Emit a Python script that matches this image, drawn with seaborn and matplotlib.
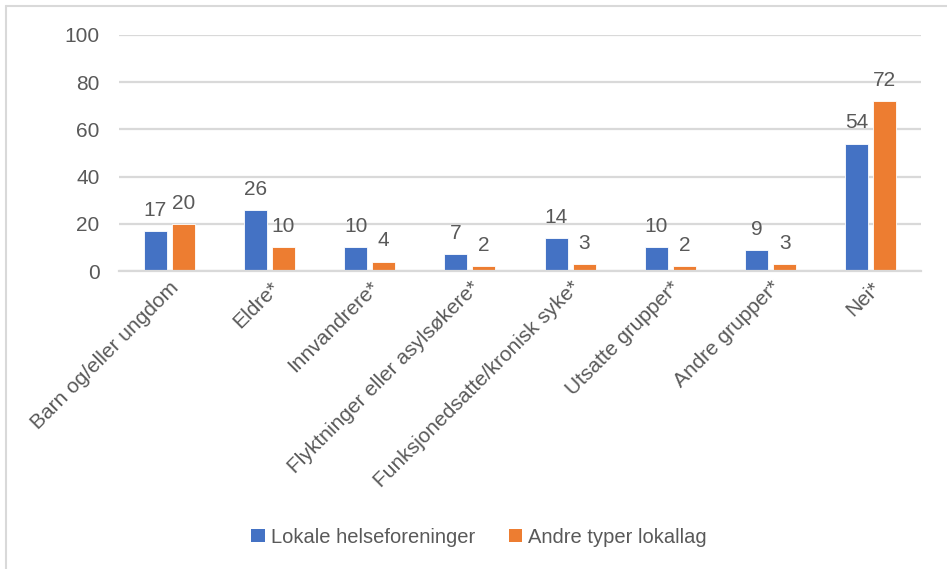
import matplotlib
matplotlib.use("Agg")
import matplotlib.pyplot as plt
from matplotlib.lines import Line2D
from matplotlib.patches import Patch
import seaborn as sns
import pandas as pd

categories = [
    "Barn og/eller ungdom",
    "Eldre*",
    "Innvandrere*",
    "Flyktninger eller asylsøkere*",
    "Funksjonedsatte/kronisk syke*",
    "Utsatte grupper*",
    "Andre grupper*",
    "Nei*",
]
series_names = ["Lokale helseforeninger", "Andre typer lokallag"]
helseforeninger = [17, 26, 10, 7, 14, 10, 9, 54]
andre_lokallag = [20, 10, 4, 2, 3, 2, 3, 72]
y_ticks = [0, 20, 40, 60, 80, 100]

colors = ["#4472C4", "#ED7D31"]
text_color = "#595959"
grid_color = "#D9D9D9"

df = pd.DataFrame({
    "kategori": categories * 2,
    "gruppe": [series_names[0]] * len(categories) + [series_names[1]] * len(categories),
    "verdi": helseforeninger + andre_lokallag,
})

sns.set_theme(style="white")
plt.rcParams["font.family"] = ["Liberation Sans", "DejaVu Sans"]

fig = plt.figure(figsize=(9.47, 5.69), dpi=100)
ax = fig.add_axes([0.1257, 0.5237, 0.8468, 0.4148])

sns.barplot(
    data=df, x="kategori", y="verdi", hue="gruppe",
    order=categories, hue_order=series_names,
    palette=colors, saturation=1, width=0.56, gap=0.18,
    edgecolor="white", linewidth=0.6,
    legend=False, ax=ax,
)

for container in ax.containers:
    ax.bar_label(container, fmt="%d", padding=8, fontsize=15, color=text_color)

ax.set_ylim(0, 100)
ax.set_yticks(y_ticks)
ax.set_xlim(-0.5, len(categories) - 0.5)
ax.yaxis.grid(True, color=grid_color, linewidth=1.6)
ax.set_axisbelow(True)
for side in ["top", "right", "left"]:
    ax.spines[side].set_visible(False)
ax.spines["bottom"].set_color(grid_color)
ax.spines["bottom"].set_linewidth(1.6)
ax.set_xlabel("")
ax.set_ylabel("")
ax.tick_params(axis="both", length=0, labelsize=15, colors=text_color)
ax.tick_params(axis="y", pad=14)
ax.tick_params(axis="x", pad=5)
plt.setp(ax.get_xticklabels(), rotation=45, ha="right", rotation_mode="anchor")

handles = [Patch(facecolor=c, edgecolor="none") for c in colors]
fig.legend(
    handles, series_names, loc="center", bbox_to_anchor=(0.506, 0.056),
    ncol=2, frameon=False, fontsize=14.5, labelcolor=text_color,
    handlelength=0.65, handleheight=0.65, handletextpad=0.3, columnspacing=1.7,
)

# thin frame along the top and left edges
fig.add_artist(Line2D([6 / 947, 6 / 947], [0, 1 - 6 / 569], transform=fig.transFigure,
                      color=grid_color, linewidth=1.5))
fig.add_artist(Line2D([6 / 947, 1], [1 - 6 / 569, 1 - 6 / 569], transform=fig.transFigure,
                      color=grid_color, linewidth=1.5))

fig.savefig("out.png", dpi=100)
